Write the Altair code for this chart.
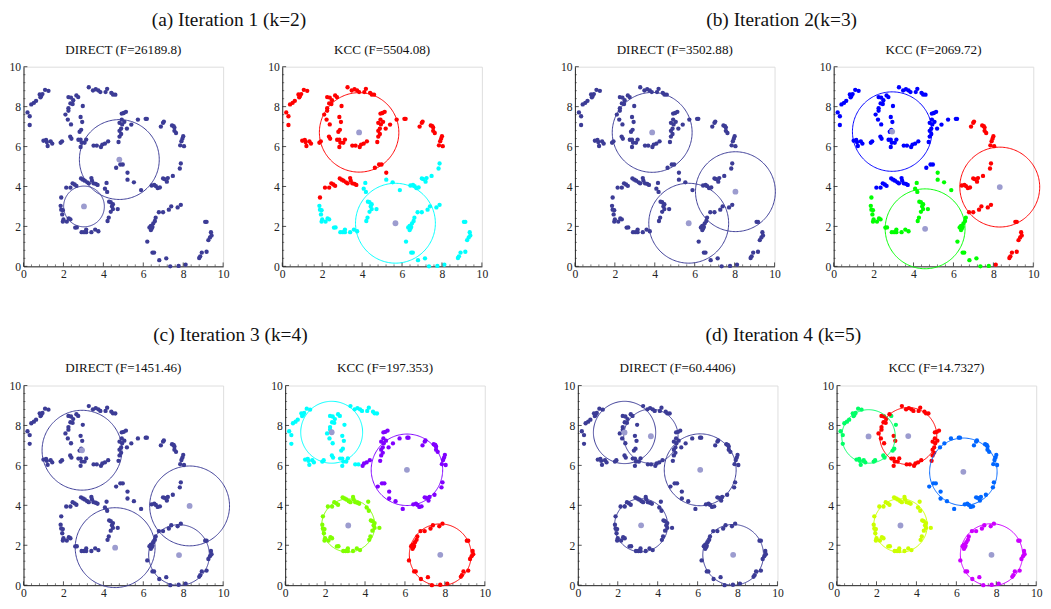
import altair as alt
import pandas as pd
import numpy as np

# ---------------- point data (five ring-shaped groups) ----------------
G_X = [0.20, 0.31, 0.31, 0.39, 0.52, 0.63, 0.81, 0.89, 0.95, 1.08, 1.25, 1.00, 1.17, 1.21,
       1.36, 1.44, 1.86, 1.93, 2.34, 2.40, 2.81, 2.89, 2.74, 2.97, 0.85, 1.13]
G_Y = [7.71, 7.52, 7.08, 8.11, 8.19, 8.29, 8.61, 8.53, 8.63, 8.84, 8.79, 6.29, 6.23, 6.03,
       6.26, 6.15, 6.19, 6.26, 6.50, 6.39, 6.74, 6.84, 8.48, 8.03, 8.47, 6.33]

R_X = [3.27, 3.48, 3.62, 3.75, 3.85, 4.11, 4.19, 4.40, 4.48, 4.60,
       2.25, 2.38, 2.49, 2.35, 2.46, 2.65, 2.25, 2.25, 2.10, 2.22, 2.38, 2.86, 2.94,
       2.75, 2.86, 2.91, 3.06, 3.14, 2.86, 3.51, 3.67,
       3.88, 3.95, 4.08, 4.24,
       4.76, 4.81, 4.89, 4.81, 4.89, 4.81, 4.94, 5.05, 4.92, 4.92, 5.02, 5.13]
R_Y = [8.97, 8.81, 8.87, 8.81, 8.73, 8.73, 8.89, 8.69, 8.61, 8.60,
       8.48, 8.45, 8.32, 8.16, 8.13, 8.56, 7.92, 7.79, 7.60, 7.35, 7.11, 7.48, 7.23,
       6.34, 6.34, 6.19, 6.19, 6.35, 5.98, 6.05, 6.05,
       5.98, 6.10, 6.15, 6.26,
       6.23, 6.50, 6.63, 6.79, 6.90, 7.19, 7.11, 7.24, 7.35, 7.65, 7.68, 7.74]

B_X = [4.64, 4.85, 4.97, 5.21, 5.21, 5.53, 5.89, 6.42, 6.55, 6.63, 6.72, 6.83, 6.99, 7.07,
       7.23, 7.18, 7.48, 7.83, 7.88, 8.04, 7.85, 7.91, 7.96, 8.00, 7.64, 7.56, 7.56, 7.44,
       7.52, 6.99, 7.03, 6.88, 6.12, 6.18, 5.73, 5.40, 5.18]
B_Y = [4.94, 5.10, 5.10, 4.69, 4.34, 4.21, 3.82, 4.05, 4.08, 4.02, 3.92, 3.95, 4.40, 4.37,
       4.42, 4.24, 4.53, 4.90, 5.15, 6.02, 6.06, 6.27, 6.39, 6.52, 6.68, 6.79, 6.95, 7.06,
       7.02, 7.19, 7.25, 7.00, 7.39, 7.39, 7.35, 7.10, 6.90]

Y_X = [2.88, 2.98, 3.07, 3.19, 3.27, 3.40, 3.43, 3.51, 3.62, 3.71, 2.46, 2.56, 2.65, 2.35, 2.14,
       1.89,
       4.16, 4.08, 4.19, 4.29, 4.37, 4.48, 4.43, 4.48, 4.72, 4.37, 4.27, 4.21,
       3.75, 3.59, 3.40, 3.14, 3.14, 3.03, 2.91, 2.59, 2.67,
       2.35, 2.27, 2.17, 1.97, 2.00, 1.94, 1.89, 1.97, 1.86]
Y_Y = [4.40, 4.34, 4.29, 4.21, 4.16, 4.42, 4.29, 4.16, 4.13, 4.08, 4.16, 4.10, 4.03, 3.94, 3.94,
       3.45,
       4.18, 3.89, 3.73, 3.24, 3.21, 3.11, 3.00, 2.87, 2.87, 2.73, 2.44, 2.27,
       1.76, 1.84, 1.71, 1.84, 1.71, 1.71, 1.71, 1.94, 1.95,
       2.35, 2.40, 2.24, 2.24, 2.35, 2.60, 2.84, 2.81, 3.03]

M_X = [6.38, 6.31, 6.42, 6.50, 6.58, 6.38, 6.46, 6.20, 6.46, 6.54, 6.80, 7.15, 7.35, 7.77,
       8.12, 8.80, 8.85, 8.93, 9.17, 9.26, 9.34, 9.39, 9.42, 9.10, 9.17, 7.88, 7.72, 7.40,
       7.28, 6.99, 6.78, 6.62]
M_Y = [2.03, 1.95, 1.90, 2.15, 2.27, 1.82, 1.97, 1.24, 0.69, 0.69, 0.31, 0.40, 0.00, 0.02,
       0.08, 0.42, 0.50, 0.69, 0.73, 1.31, 1.45, 1.71, 1.55, 2.23, 2.23, 3.08, 2.95, 3.00,
       2.84, 2.71, 2.71, 2.44]

RINGS = ["G", "R", "B", "Y", "M"]
RING_X = {"G": G_X, "R": R_X, "B": B_X, "Y": Y_X, "M": M_X}
RING_Y = {"G": G_Y, "R": R_Y, "B": B_Y, "Y": Y_Y, "M": M_Y}

# ---------------- KCC cluster labels (one character per point) ----------------
K2_LABELS = {
    "G": "rrrrrrrrrrrrrrrrrrrrrrrrrr",
    "R": "rrrrrrrrrrrrrrrrrrrrrrrrrrrrrrrrrrrrrrrrrrrrrrr",
    "B": "rrrrcccccccccccccccrrrrrrrrrrrrrrrrrr",
    "Y": "rrrrrrrrrrrrrrrrcccccccccccccccccccccccccccccc",
    "M": "cccccccccccccccccccccccccccccccc",
}
K3_LABELS = {
    "G": "bbbbbbbbbbbbbbbbbbbbbbbbbb",
    "R": "bbbbbbbbbbbbbbbbbbbbbbbbbbbbbbbbbbbbbbbbbbbbbbb",
    "B": "bbbggggrrrrrrrrrrrrrrrrrrrrrrrrrbbbbb",
    "Y": "bbbbbbbbbbbbbbbggggggggggggggggggggggggggggggg",
    "M": "ggggggggggggggrrrrrrrrrrrrrrrrrg",
}
K4_LABELS = {
    "G": "cccccccccccccccccccccccccc",
    "R": "cccccccccccccccccccccccccccccccpppppppppppppppp",
    "B": "ppppppppppppppppppppppppppppppppppppp",
    "Y": "llllllllllllllllllllllllllllllllllllllllllllll",
    "M": "rrrrrrrrrrrrrrrrrrrrrrrrrrrrrrrr",
}
K5_LABELS = {"G": "G", "R": "R", "B": "B", "Y": "Y", "M": "M"}  # one cluster per ring

K2_COLORS = {"r": "#ff0000", "c": "#00ffff"}
K3_COLORS = {"r": "#ff0000", "g": "#00ff00", "b": "#0000ff"}
K4_COLORS = {"r": "#ff0000", "l": "#80ff00", "c": "#00ffff", "p": "#8000ff"}
K5_COLORS = {"R": "#ff0000", "Y": "#ccff00", "G": "#00ff66", "B": "#0066ff", "M": "#cc00ff"}

NAVY = "#3c3c96"
CENTER = "#9c9ccf"

# ---------------- circles: (cx, cy, r, colour) ----------------
P1_CIRCLES = [(4.80, 5.35, 2.00, NAVY), (3.03, 3.00, 1.02, NAVY)]
P2_CIRCLES = [(3.85, 6.71, 1.99, "#ff0000"), (5.67, 2.16, 2.00, "#00ffff")]
P3_CIRCLES = [(3.87, 6.71, 2.00, NAVY), (5.70, 2.16, 2.00, NAVY), (8.04, 3.74, 2.00, NAVY)]
P4_CIRCLES = [(2.93, 6.75, 1.99, "#0000ff"), (8.32, 3.97, 2.00, "#ff0000"), (4.58, 1.88, 2.00, "#00ff00")]
P5_CIRCLES = [(2.93, 6.76, 2.00, NAVY), (8.32, 3.97, 2.00, NAVY), (4.59, 1.88, 2.00, NAVY),
              (7.79, 1.51, 1.52, NAVY)]
P6_CIRCLES = [(2.33, 7.66, 1.55, "#00ffff"), (6.10, 5.78, 1.79, "#8000ff"),
              (3.16, 2.99, 1.33, "#80ff00"), (7.77, 1.52, 1.55, "#ff0000")]
P7_CIRCLES = [(2.34, 7.65, 1.56, NAVY), (3.66, 7.46, 1.36, NAVY), (6.13, 5.78, 1.80, NAVY),
              (3.17, 3.00, 1.33, NAVY), (7.78, 1.52, 1.52, NAVY)]
P8_CIRCLES = [(1.60, 7.45, 1.34, "#00ff66"), (3.59, 7.47, 1.43, "#ff0000"),
              (6.35, 5.68, 1.69, "#0066ff"), (3.20, 2.99, 1.34, "#ccff00"),
              (7.76, 1.52, 1.56, "#cc00ff")]

MAJOR_TICKS = [0, 2, 4, 6, 8, 10]
MINOR_TICKS = [v / 10 for v in range(0, 101, 4) if v % 20 != 0]

W = 206
H = 206
SERIF = "Liberation Serif"


def points_df(labels=None, colors=None, whole_ring=False):
    rows = []
    for ring in RINGS:
        xs, ys = RING_X[ring], RING_Y[ring]
        for i, (x, y) in enumerate(zip(xs, ys)):
            if labels is None:
                col = NAVY
            elif whole_ring:
                col = colors[labels[ring]]
            else:
                col = colors[labels[ring][i]]
            rows.append({"x": x, "y": y, "c": col})
    return pd.DataFrame(rows)


def circle_df(circles):
    rows = []
    ang = np.linspace(0, 2 * np.pi, 181)
    for k, (cx, cy, r, col) in enumerate(circles):
        for j, a in enumerate(ang):
            rows.append({"x": cx + r * np.cos(a), "y": cy + r * np.sin(a),
                         "cid": k, "o": j, "c": col})
    return pd.DataFrame(rows)


def centers_df(circles):
    return pd.DataFrame([{"x": cx, "y": cy} for cx, cy, r, col in circles])


XS = alt.Scale(domain=[0, 10], nice=False, zero=False)
YS = alt.Scale(domain=[0, 10], nice=False, zero=False)
AX = alt.Axis(values=MAJOR_TICKS, ticks=False, grid=False, title=None, domainColor="#222222",
              labelFont=SERIF, labelFontSize=12, labelColor="#222222", labelPadding=3,
              labelAngle=0, labelFlush=False, labelOverlap=False)


def ex(field):
    return alt.X(field, scale=XS, axis=AX)


def ey(field):
    return alt.Y(field, scale=YS, axis=AX)


def panel(title, pts, circles):
    base_ticks_major = pd.DataFrame({"v": MAJOR_TICKS})
    base_ticks_minor = pd.DataFrame({"v": MINOR_TICKS})
    tx_major = alt.Chart(base_ticks_major).mark_rule(color="#222222", strokeWidth=0.8).encode(
        x=ex("v:Q"), y=alt.value(H), y2=alt.value(H - 4))
    tx_minor = alt.Chart(base_ticks_minor).mark_rule(color="#222222", strokeWidth=0.6).encode(
        x=ex("v:Q"), y=alt.value(H), y2=alt.value(H - 2))
    ty_major = alt.Chart(base_ticks_major).mark_rule(color="#222222", strokeWidth=0.8).encode(
        y=ey("v:Q"), x=alt.value(0), x2=alt.value(4))
    ty_minor = alt.Chart(base_ticks_minor).mark_rule(color="#222222", strokeWidth=0.6).encode(
        y=ey("v:Q"), x=alt.value(0), x2=alt.value(2))
    circ = alt.Chart(circle_df(circles)).mark_line(strokeWidth=1, clip=False).encode(
        x=ex("x:Q"), y=ey("y:Q"),
        detail="cid:N", order="o:Q", color=alt.Color("c:N", scale=None))
    dots = alt.Chart(pts).mark_circle(size=20, opacity=1).encode(
        x=ex("x:Q"), y=ey("y:Q"), color=alt.Color("c:N", scale=None))
    cen = alt.Chart(centers_df(circles)).mark_circle(size=36, opacity=1, color=CENTER).encode(
        x=ex("x:Q"), y=ey("y:Q"))
    return alt.layer(dots, tx_major, tx_minor, ty_major, ty_minor, circ, cen).properties(
        width=W, height=H,
        title=alt.TitleParams(title, font=SERIF, fontSize=13.5, fontWeight="normal",
                              color="#111111", offset=5))


def group(title, left, right, offset):
    return alt.hconcat(left, right, spacing=38).properties(
        title=alt.TitleParams(title, font=SERIF, fontSize=20, fontWeight="normal",
                              color="#111111", anchor="middle", dx=-20, offset=offset))


p1 = panel("DIRECT (F=26189.8)", points_df(), P1_CIRCLES)
p2 = panel("KCC (F=5504.08)", points_df(K2_LABELS, K2_COLORS), P2_CIRCLES)
p3 = panel("DIRECT (F=3502.88)", points_df(), P3_CIRCLES)
p4 = panel("KCC (F=2069.72)", points_df(K3_LABELS, K3_COLORS), P4_CIRCLES)
p5 = panel("DIRECT (F=1451.46)", points_df(), P5_CIRCLES)
p6 = panel("KCC (F=197.353)", points_df(K4_LABELS, K4_COLORS), P6_CIRCLES)
p7 = panel("DIRECT (F=60.4406)", points_df(), P7_CIRCLES)
p8 = panel("KCC (F=14.7327)", points_df(K5_LABELS, K5_COLORS, whole_ring=True), P8_CIRCLES)

row1 = alt.hconcat(group("(a) Iteration 1 (k=2)", p1, p2, 13),
                   group("(b) Iteration 2(k=3)", p3, p4, 13), spacing=73)
row2 = alt.hconcat(group("(c) Iteration 3 (k=4)", p5, p6, 17),
                   group("(d) Iteration 4 (k=5)", p7, p8, 17), spacing=73)

chart = alt.vconcat(row1, row2, spacing=46).properties(
    padding={"left": 0, "top": -7, "right": 0, "bottom": 0}
).configure_view(stroke=None).configure(background="white")

chart.save("out.html", embed_options={"renderer": "svg", "actions": False})
